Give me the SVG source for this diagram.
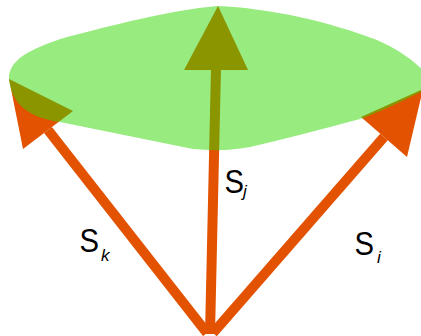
<svg xmlns="http://www.w3.org/2000/svg" width="421" height="336" viewBox="0 0 421 336">
  <style>
    .shaft { stroke: #e25200; stroke-width: 10; fill: none; stroke-linecap: butt; }
    .head { fill: #e25200; stroke: none; }
    .disc { fill: rgb(49,215,0); fill-opacity: 0.5; stroke: none; }
    .S { font-family: "Liberation Sans", Arial, sans-serif; font-size: 34px; fill: #000; }
    .sub { font-family: "Liberation Sans", Arial, sans-serif; font-size: 17px; font-style: italic; fill: #000; }
  </style>
  <rect width="421" height="336" fill="#ffffff"/>
  <g id="connectors">
    <g id="arrow-k">
      <line class="shaft" x1="48" y1="130" x2="207" y2="333"/>
      <polygon class="head" points="9,79 23,149 73,111"/>
    </g>
    <g id="arrow-j">
      <line class="shaft" x1="216" y1="68" x2="210" y2="334"/>
      <polygon class="head" points="218,6 184,70 248,70"/>
    </g>
    <g id="arrow-i">
      <line class="shaft" x1="384" y1="137" x2="213" y2="333"/>
      <polygon class="head" points="423,89 361,117 407,157"/>
    </g>
  </g>
  <g id="disc">
    <path class="disc" d="M 9,80 C 8,62 25,50 67,37 C 110,26 170,10 217,6 C 270,8 330,22 377,40 Q 405,52 425,72 L 425,90 C 400,102 380,112 360,119 C 320,130 280,140 250,147 Q 225,152 193,149 L 60,122 C 30,118 12,105 9,80 Z"/>
  </g>
  <g id="label-k">
    <text class="S" transform="translate(79.6,252) scale(0.86,1)">S</text>
    <text class="sub" x="101" y="261">k</text>
  </g>
  <g id="label-j">
    <text class="S" transform="translate(224.6,193) scale(0.86,1)">S</text>
    <text class="sub" x="243" y="197">j</text>
  </g>
  <g id="label-i">
    <text class="S" transform="translate(354.6,255) scale(0.86,1)">S</text>
    <text class="sub" x="377" y="263">i</text>
  </g>
</svg>
